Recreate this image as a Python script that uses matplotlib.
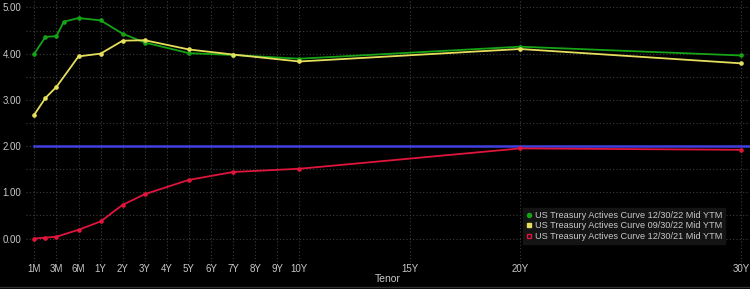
"""
US Treasury actives curve, three snapshots, Bloomberg-style dark chart.
"""
import numpy as np
import matplotlib
matplotlib.use("Agg")
import matplotlib.pyplot as plt
from matplotlib.lines import Line2D

plt.rcParams["font.family"] = ["Liberation Sans", "DejaVu Sans"]

# ---------------------------------------------------------------------------
# Data
# ---------------------------------------------------------------------------
tick_labels = ["1M", "3M", "6M", "1Y", "2Y", "3Y", "4Y", "5Y", "6Y", "7Y",
               "8Y", "9Y", "10Y", "15Y", "20Y", "30Y"]
tick_tenors = [1/12, 0.25, 0.5, 1, 2, 3, 4, 5, 6, 7, 8, 9, 10, 15, 20, 30]

tenor_dec22 = [1/12, 2/12, 0.25, 4/12, 0.5, 1, 2, 3, 5, 7, 10, 20, 30]
ytm_dec22 = [4.00, 4.36, 4.38, 4.69, 4.77, 4.72, 4.43, 4.24, 4.01, 3.97,
             3.89, 4.15, 3.96]

tenor_sep22 = [1/12, 2/12, 0.25, 0.5, 1, 2, 3, 5, 7, 10, 20, 30]
ytm_sep22 = [2.68, 3.04, 3.28, 3.94, 4.00, 4.28, 4.29, 4.09, 3.98, 3.83,
             4.10, 3.79]

tenor_dec21 = [1/12, 2/12, 0.25, 0.5, 1, 2, 3, 5, 7, 10, 20, 30]
ytm_dec21 = [0.00, 0.02, 0.04, 0.19, 0.37, 0.73, 0.96, 1.27, 1.44, 1.51,
             1.95, 1.92]

ref_level = 2.00

labels = ["US Treasury Actives Curve 12/30/22 Mid YTM",
          "US Treasury Actives Curve 09/30/22 Mid YTM",
          "US Treasury Actives Curve 12/30/21 Mid YTM"]

# ---------------------------------------------------------------------------
# Tenor axis: short end stretched (1M, 3M, 6M equally spaced), linear after 1Y
# ---------------------------------------------------------------------------
SCALE_KNOTS_T = [1/12, 0.25, 0.5, 1, 30]
SCALE_KNOTS_X = [-2, -1, 0, 1, 30]


def tenor_pos(t):
    return np.interp(t, SCALE_KNOTS_T, SCALE_KNOTS_X)


BG = "black"
GRID = "#3c3c3c"
TXT = "#c8c8c8"

fig = plt.figure(figsize=(7.5, 2.89), dpi=100, facecolor=BG)
ax = fig.add_axes([0.034, 0.0945, 0.966, 0.9055], facecolor=BG)

series = [
    (tenor_dec22, ytm_dec22, "#16a316", labels[0]),
    (tenor_sep22, ytm_sep22, "#e6df5c", labels[1]),
    (tenor_dec21, ytm_dec21, "#e0153c", labels[2]),
]

ax.plot([tenor_pos(1/12), 31], [ref_level, ref_level],
        color="#4040e0", linewidth=1.8, zorder=2)

for t, y, c, lab in series:
    ax.plot(tenor_pos(t), y, color=c, linewidth=1.3, marker="o",
            markersize=2.3, zorder=3)

ax.set_xlim(-2.4, 30.4)
ax.set_ylim(-0.474, 5.16)

ax.set_xticks(tenor_pos(tick_tenors))
ax.set_xticklabels(tick_labels)
ax.set_yticks([0, 1, 2, 3, 4, 5])
ax.set_yticklabels([f"{v:.2f}" for v in [0, 1, 2, 3, 4, 5]])
ax.set_yticks(np.arange(-0.5, 5.01, 0.5), minor=True)
ax.tick_params(axis="both", which="both", length=0, colors=TXT,
               labelsize=7)
ax.tick_params(axis="x", pad=2)
ax.tick_params(axis="y", pad=3)

ax.grid(True, which="both", color=GRID, linestyle=(0, (1, 2)),
        linewidth=0.8)
ax.set_axisbelow(True)
for s in ax.spines.values():
    s.set_visible(False)

ax.set_xlabel("Tenor", color=TXT, fontsize=7.5, labelpad=0)

handles = [
    Line2D([], [], linestyle="none", marker="o", markersize=3,
           color="#16a316"),
    Line2D([], [], linestyle="none", marker="s", markersize=2.6,
           color="#e6df5c"),
    Line2D([], [], linestyle="none", marker="s", markersize=3,
           markerfacecolor="none", markeredgecolor="#e0153c"),
]
leg = ax.legend(handles, labels, loc="lower right",
                bbox_to_anchor=(0.972, 0.050), fontsize=6.6,
                frameon=True, facecolor="#141414", edgecolor="#141414",
                labelcolor=TXT, handlelength=0.6, handletextpad=0.3,
                borderpad=0.35, labelspacing=0.15, framealpha=1)
leg.get_frame().set_boxstyle("square", pad=0)

# thin panel border under the chart
fig.add_artist(Line2D([0, 1], [0.006, 0.006], transform=fig.transFigure,
                      color="#303030", linewidth=1))

fig.savefig("out.png", dpi=100, facecolor=BG)
